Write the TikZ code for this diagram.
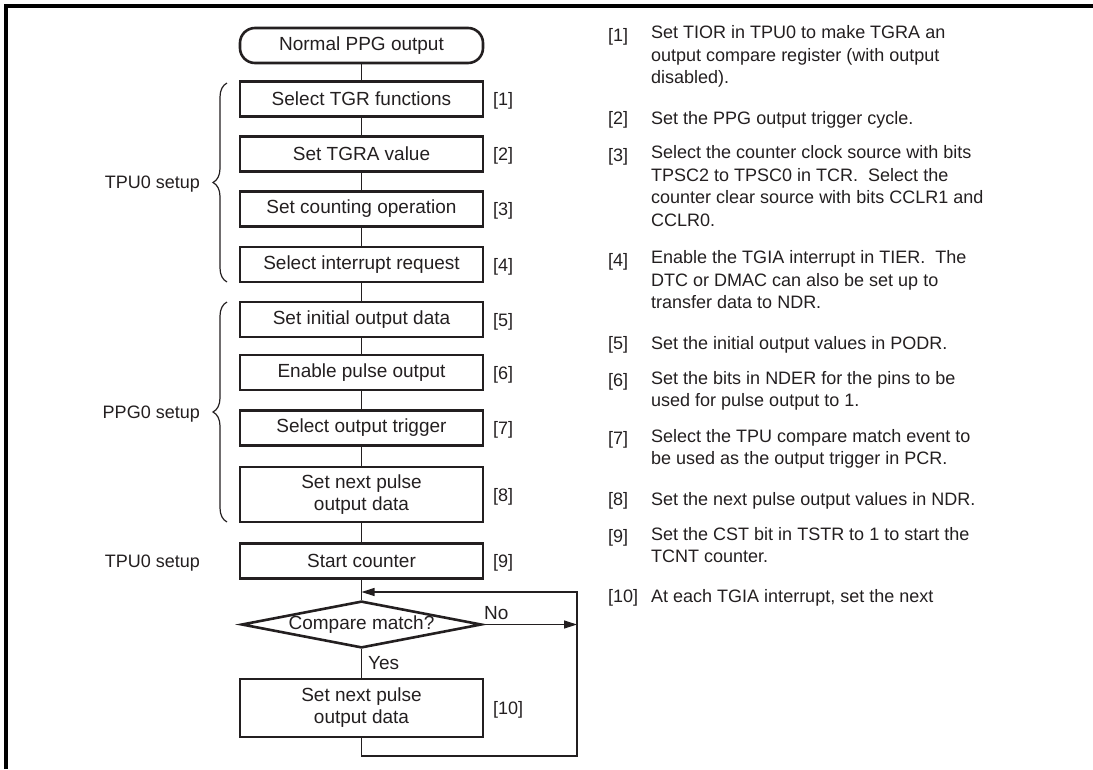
\documentclass[tikz,border=0pt]{standalone}
\usepackage{fontspec}
\setmainfont{Liberation Sans}
\usetikzlibrary{positioning,arrows.meta,shapes.geometric,calc,decorations.pathreplacing}
\definecolor{ppgtexto}{HTML}{231F20}
\tikzset{
  ppgcaixa/.style={draw=ppgtexto, line width=2.6pt, align=center, text=ppgtexto,
                   font=\fontsize{19}{22}\selectfont,
                   minimum width=243pt, minimum height=35pt, inner sep=0pt},
  ppginicio/.style={ppgcaixa, rounded corners=15pt},
  ppgdecisao/.style={shape=diamond, draw=ppgtexto, line width=2.6pt, text=ppgtexto,
                   font=\fontsize{19}{22}\selectfont,
                   minimum width=240pt, minimum height=45pt, aspect=5, inner sep=0pt},
  ppglinha/.style={draw=ppgtexto, line width=1.2pt},
  ppgseta/.style={ppglinha, -{Triangle[length=13pt, width=8pt]}},
  ppgrotulo/.style={text=ppgtexto, inner sep=0pt, anchor=base west},
  ppgnota/.style={text=ppgtexto, inner sep=0pt, anchor=north west, align=left,
                   execute at begin node=\strut},
  ppgchave/.style={draw=ppgtexto, line width=1.2pt, decorate, decoration={brace, amplitude=14pt}},
}

\begin{document}
\begin{tikzpicture}[x=1pt, y=-1pt, font=\fontsize{18}{22.5}\selectfont]
        \useasboundingbox (0,0) rectangle (1093,769);
        % ---------------- moldura ----------------
        \draw[line width=4pt] (6,769) -- (6,6) -- (1093,6);
        % ---------------- fluxograma ----------------
        \node[ppginicio] (ini) at (361.5,45.5) {Normal PPG output};
        \node[ppgcaixa] (c1) at (361.5,99) {Select TGR functions};
        \node[ppgcaixa] (c2) at (361.5,154) {Set TGRA value};
        \node[ppgcaixa] (c3) at (361.5,209) {Set counting operation};
        \node[ppgcaixa] (c4) at (361.5,264.5) {Select interrupt request};
        \node[ppgcaixa] (c5) at (361.5,319.5) {Set initial output data};
        \node[ppgcaixa] (c6) at (361.5,372.5) {Enable pulse output};
        \node[ppgcaixa] (c7) at (361.5,428) {Select output trigger};
        \node[ppgcaixa, minimum height=55pt] (c8) at (361.5,494.5) {Set next pulse\\ output data};
        \node[ppgcaixa] (c9) at (361.5,561) {Start counter};
        \node[ppgdecisao] (cmp) at (361.5,624.5) {Compare match?};
        \node[ppgcaixa, minimum height=58pt] (c10) at (361.5,708) {Set next pulse\\ output data};
        \node[ppgrotulo] (r1) at (493,105.5) {[1]};
        \node[ppgrotulo] (r2) at (493,160.5) {[2]};
        \node[ppgrotulo] (r3) at (493,215.5) {[3]};
        \node[ppgrotulo] (r4) at (493,271) {[4]};
        \node[ppgrotulo] (r5) at (493,326) {[5]};
        \node[ppgrotulo] (r6) at (493,379) {[6]};
        \node[ppgrotulo] (r7) at (493,434.5) {[7]};
        \node[ppgrotulo] (r8) at (493,501) {[8]};
        \node[ppgrotulo] (r9) at (493,567.5) {[9]};
        \node[ppgrotulo] (r10) at (493,714.5) {[10]};
        \draw[ppglinha] (ini) -- (c1);
        \foreach \a/\b in {1/2,2/3,3/4,4/5,5/6,6/7,7/8,8/9} {\draw[ppglinha] (c\a) -- (c\b);}
        \draw[ppglinha] (c9) -- (cmp);
        \draw[ppglinha] (cmp) -- (c10);
        \coordinate (volta1) at (577,756);
        \coordinate (volta2) at (577,592);
        \coordinate (volta3) at (361.5,592);
        \draw[ppgseta] (cmp.east) -- (cmp.east -| volta1);
        \draw[ppgseta] (c10.south) |- (volta1) -- (volta2) -- (volta3);
        \node[ppgrotulo, font=\fontsize{19}{22}\selectfont] (nao) at (484,619) {No};
        \node[ppgrotulo, font=\fontsize{19}{22}\selectfont] (sim) at (368,669) {Yes};
        % ---------------- chaves ----------------
        \draw[ppgchave] (227,282) -- (227,83);
        \draw[ppgchave] (227,522) -- (227,302);
        \node[ppgrotulo, anchor=base east] (tpu) at (200,188.5) {TPU0 setup};
        \node[ppgrotulo, anchor=base east] (ppg) at (200,418.5) {PPG0 setup};
        \node[ppgrotulo, anchor=base east] (tpub) at (200,567.5) {TPU0 setup};
        % ---------------- notas ----------------
        \node[ppgrotulo] (n1) at (608,41.5) {[1]};
        \node[ppgnota] (t1) at (651,25.75) {Set TIOR in TPU0 to make TGRA an\\ output compare register (with output\\ disabled).};
        \node[ppgrotulo] (n2) at (608,124.5) {[2]};
        \node[ppgnota] (t2) at (651,108.75) {Set the PPG output trigger cycle.};
        \node[ppgrotulo] (n3) at (608,161.5) {[3]};
        \node[ppgnota] (t3) at (651,145.75) {Select the counter clock source with bits\\ TPSC2 to TPSC0 in TCR.\ \ Select the\\ counter clear source with bits CCLR1 and\\ CCLR0.};
        \node[ppgrotulo] (n4) at (608,266.5) {[4]};
        \node[ppgnota] (t4) at (651,250.75) {Enable the TGIA interrupt in TIER.\ \ The\\ DTC or DMAC can also be set up to\\ transfer data to NDR.};
        \node[ppgrotulo] (n5) at (608,349.5) {[5]};
        \node[ppgnota] (t5) at (651,333.75) {Set the initial output values in PODR.};
        \node[ppgrotulo] (n6) at (608,386.5) {[6]};
        \node[ppgnota] (t6) at (651,370.75) {Set the bits in NDER for the pins to be\\ used for pulse output to 1.};
        \node[ppgrotulo] (n7) at (608,444.5) {[7]};
        \node[ppgnota] (t7) at (651,428.75) {Select the TPU compare match event to\\ be used as the output trigger in PCR.};
        \node[ppgrotulo] (n8) at (608,505.5) {[8]};
        \node[ppgnota] (t8) at (651,489.75) {Set the next pulse output values in NDR.};
        \node[ppgrotulo] (n9) at (608,542.5) {[9]};
        \node[ppgnota] (t9) at (651,526.75) {Set the CST bit in TSTR to 1 to start the\\ TCNT counter.};
        \node[ppgrotulo] (n10) at (608,602.5) {[10]};
        \node[ppgnota] (t10) at (651,586.75) {At each TGIA interrupt, set the next};
\end{tikzpicture}
\end{document}
